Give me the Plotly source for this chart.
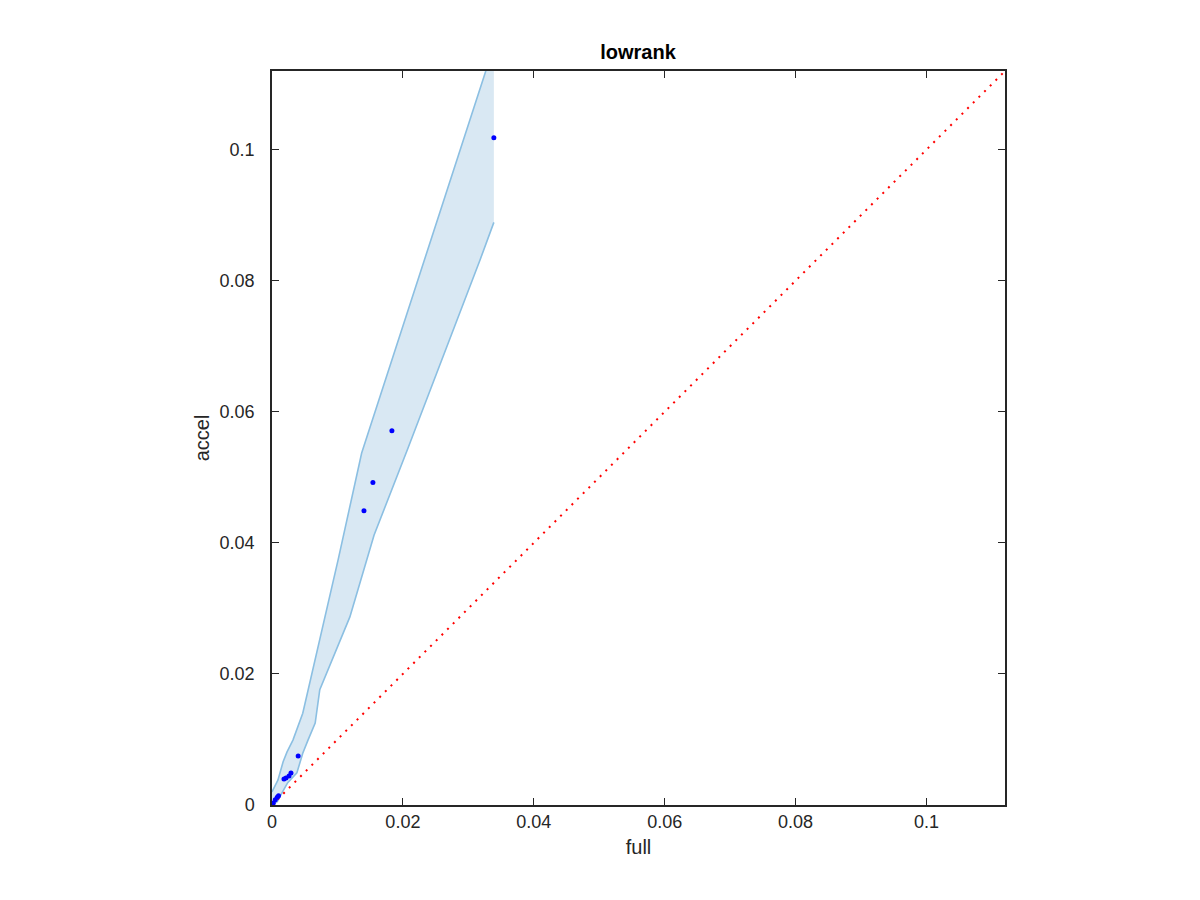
import plotly.graph_objects as go

# scatter points (full vs accel)
full_pts = [0.0339, 0.01832, 0.01542, 0.01405, 0.0040, 0.0029, 0.0026, 0.00214, 0.00183,
            0.0010, 0.0008, 0.0005, 0.0002, 0.0]
accel_pts = [0.1018, 0.0571, 0.0492, 0.0449, 0.00748, 0.0049, 0.00443, 0.00412, 0.00397,
             0.0014, 0.0012, 0.0008, 0.0003, 0.0]

# confidence band edges
upper_x = [0.0, 0.00015, 0.0009, 0.0017, 0.0023, 0.0032, 0.0043, 0.0047, 0.0101, 0.0137, 0.0327, 0.0339]
upper_y = [0.0020, 0.0023, 0.0038, 0.0066, 0.0081, 0.0099, 0.0130, 0.0140, 0.0374, 0.0537, 0.1121, 0.1159]
lower_x = [0.0, 0.0008, 0.0015, 0.0024, 0.0038, 0.0047, 0.0055, 0.0066, 0.0073, 0.0119, 0.0156, 0.0208, 0.0318, 0.0339]
lower_y = [0.0, 0.0005, 0.0018, 0.0034, 0.0049, 0.0079, 0.0099, 0.0125, 0.0176, 0.0287, 0.0412, 0.0545, 0.0832, 0.0889]

diag = [0.0, 0.112]
ticks = [0, 0.02, 0.04, 0.06, 0.08, 0.1]
tick_text = ["0", "0.02", "0.04", "0.06", "0.08", "0.1"]

band_fill = "rgb(217,232,243)"
band_line = "rgb(139,191,226)"
FONT = "Liberation Sans, Arial, Helvetica"

fig = go.Figure()
fig.add_trace(go.Scatter(
    x=upper_x + lower_x[::-1], y=upper_y + lower_y[::-1],
    fill="toself", fillcolor=band_fill, mode="none", hoverinfo="skip"))
fig.add_trace(go.Scatter(x=upper_x, y=upper_y, mode="lines",
                         line=dict(color=band_line, width=1.6)))
fig.add_trace(go.Scatter(x=lower_x, y=lower_y, mode="lines",
                         line=dict(color=band_line, width=1.6)))
fig.add_trace(go.Scatter(x=diag, y=diag, mode="lines",
                         line=dict(color="red", width=2, dash="2px,6px")))
fig.add_trace(go.Scatter(x=full_pts, y=accel_pts, mode="markers",
                         marker=dict(color="blue", size=5), cliponaxis=True))

axis_common = dict(
    range=[0, 0.112], tickvals=ticks, ticktext=tick_text,
    showline=True, linecolor="#262626", linewidth=1.5, mirror="ticks",
    ticks="inside", ticklen=7, tickwidth=1.3, tickcolor="#262626",
    showgrid=False, zeroline=False,
    tickfont=dict(family=FONT, size=18, color="#262626"),
)

fig.update_layout(
    width=1200, height=900, showlegend=False,
    plot_bgcolor="white", paper_bgcolor="white",
    margin=dict(l=264, r=203, t=63, b=103),
    title=dict(text="<b>lowrank</b>", x=0.525, xanchor="center", y=0.951, yanchor="middle",
               font=dict(family=FONT, size=20, color="black")),
    xaxis=dict(**axis_common, title=dict(text="full", standoff=9,
               font=dict(family=FONT, size=20, color="#262626"))),
    yaxis=dict(**axis_common, ticklabelstandoff=12, title=dict(text="accel", standoff=5,
               font=dict(family=FONT, size=20, color="#262626"))),
)

fig.write_html("out.html")
